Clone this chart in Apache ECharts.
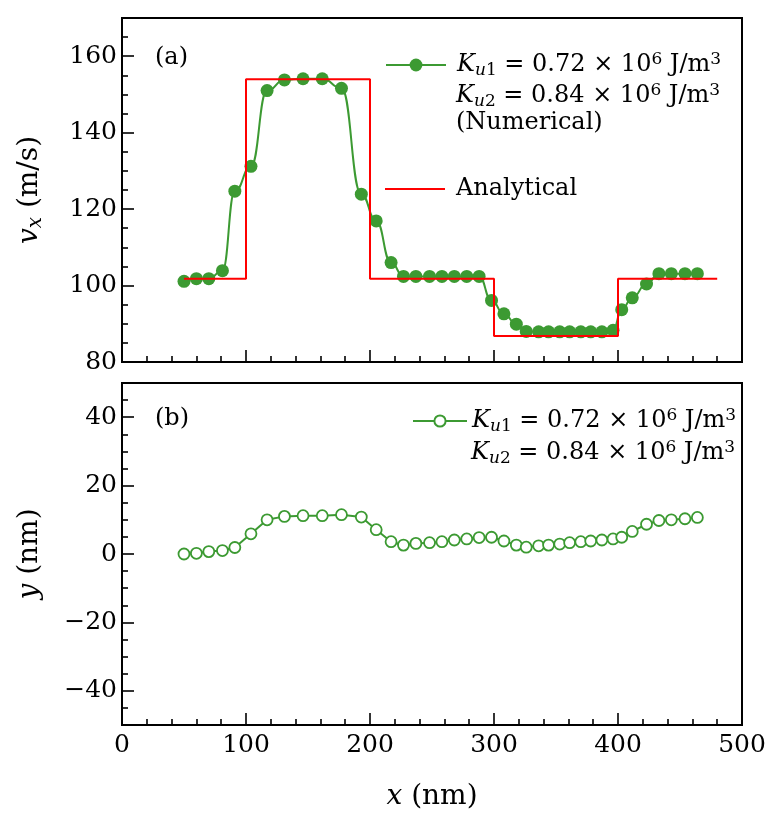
<!DOCTYPE html>
<html><head><meta charset="utf-8">
<script src="https://cdn.jsdelivr.net/npm/echarts@6/dist/echarts.min.js"></script>
<style>html,body{margin:0;padding:0;background:#fff}#c{width:777px;height:820px}</style>
</head><body><div id="c"></div>
<script>
// ---- data ----
const xPos = [50, 60, 70, 81, 91, 104, 117, 131, 146, 161.5, 177, 193, 205, 217, 227, 237, 248, 258, 268, 278, 288, 298, 308, 318, 326, 336, 344, 353, 361, 370, 378, 387, 396, 403, 411.5, 423, 433, 443, 454, 464];
const vxNumerical = [101.1, 101.8, 101.8, 103.9, 124.7, 131.2, 151.0, 153.8, 154.1, 154.1, 151.6, 123.9, 116.9, 106.0, 102.4, 102.4, 102.4, 102.4, 102.4, 102.4, 102.4, 96.1, 92.6, 89.9, 88.0, 87.9, 87.9, 87.9, 87.9, 87.9, 87.9, 87.9, 88.3, 93.7, 96.8, 100.4, 103.1, 103.1, 103.1, 103.1];
const stepX = [50, 100, 200, 300, 400, 480];
const stepV = [101.8, 154, 101.8, 86.8, 101.8, 101.8];
const yNumerical = [0, 0.2, 0.7, 1.0, 1.9, 5.9, 10.0, 11.0, 11.2, 11.2, 11.5, 10.8, 7.1, 3.6, 2.6, 3.1, 3.3, 3.6, 4.1, 4.4, 4.8, 4.9, 3.8, 2.6, 2.0, 2.4, 2.6, 2.9, 3.3, 3.6, 3.8, 4.1, 4.4, 4.9, 6.6, 8.7, 9.8, 10.0, 10.3, 10.7];
const xRange = [0, 500];
const vxRange = [80, 170];
const yRange = [-50, 50];

// ---- styles ----
const F = 'DejaVu Serif';
const GREEN = '#3c9a32';
const RED = '#ff0000';
const FS = 24, SS = 17;
const rich = {
  n: {fontFamily: F, fontSize: FS, lineHeight: 28, color: '#000'},
  it: {fontFamily: F, fontStyle: 'italic', fontSize: FS, lineHeight: 28, color: '#000'},
  subit: {fontFamily: F, fontStyle: 'italic', fontSize: SS, lineHeight: 10, verticalAlign: 'bottom', color: '#000'},
  sub: {fontFamily: F, fontSize: SS, lineHeight: 10, verticalAlign: 'bottom', color: '#000'},
  sup: {fontFamily: F, fontSize: SS, lineHeight: 8, verticalAlign: 'top', color: '#000'}
};
const richLegendTop = Object.assign({}, rich, {
  it: Object.assign({}, rich.it, {padding: [0, 0, 0, 6]}),
  np: Object.assign({}, rich.n, {padding: [0, 0, 0, 6]})
});
const TS = 28;
const richTitle = {
  n: {fontFamily: F, fontSize: TS, lineHeight: 32, color: '#000'},
  it: {fontFamily: F, fontStyle: 'italic', fontSize: TS, lineHeight: 32, color: '#000'},
  subit: {fontFamily: F, fontStyle: 'italic', fontSize: 20, lineHeight: 12, verticalAlign: 'bottom', color: '#000'}
};
const K1 = '{it|K}{subit|u}{sub|1}{n| = 0.72 × 10}{sup|6}{n| J/m}{sup|3}';
const K2 = '{it|K}{subit|u}{sub|2}{n| = 0.84 × 10}{sup|6}{n| J/m}{sup|3}';

const tickStyle = {color: '#000', width: 1.6};
function xAxis(grid, showLabels) {
  return {
    type: 'value', gridIndex: grid, min: xRange[0], max: xRange[1], interval: 100,
    axisLine: {show: false, onZero: false},
    axisTick: {show: true, inside: true, length: 12, lineStyle: tickStyle},
    minorTick: {show: true, splitNumber: 5, length: 6, lineStyle: tickStyle},
    splitLine: {show: false},
    axisLabel: {show: showLabels, margin: 8, color: '#000', fontFamily: F, fontSize: 25},
    name: showLabels ? '{it|x}{n| (nm)}' : '',
    nameLocation: 'middle', nameGap: 56,
    nameTextStyle: {rich: richTitle}
  };
}
const minus = v => String(v).replace('-', '\u2212');

const option = {
  animation: false,
  backgroundColor: '#fff',
  grid: [
    {left: 122, top: 18, width: 620, height: 344, show: true, borderColor: '#000', borderWidth: 2, backgroundColor: 'transparent'},
    {left: 122, top: 383, width: 620, height: 342, show: true, borderColor: '#000', borderWidth: 2, backgroundColor: 'transparent'}
  ],
  xAxis: [xAxis(0, false), xAxis(1, true)],
  yAxis: [
    {
      type: 'value', gridIndex: 0, min: vxRange[0], max: vxRange[1], interval: 20,
      axisLine: {show: false, onZero: false},
      axisTick: {show: true, inside: true, length: 12, lineStyle: tickStyle},
      minorTick: {show: true, splitNumber: 4, length: 6, lineStyle: tickStyle},
      splitLine: {show: false},
      axisLabel: {margin: 5, color: '#000', fontFamily: F, fontSize: 25, showMaxLabel: false},
      name: '{it|v}{subit|x}{n| (m/s)}', nameLocation: 'middle', nameGap: 76,
      nameTextStyle: {rich: richTitle}
    },
    {
      type: 'value', gridIndex: 1, min: yRange[0], max: yRange[1], splitNumber: 5,
      axisLine: {show: false, onZero: false},
      axisTick: {show: true, inside: true, length: 12, lineStyle: tickStyle},
      minorTick: {show: true, splitNumber: 4, length: 6, lineStyle: tickStyle},
      splitLine: {show: false},
      axisLabel: {margin: 5, color: '#000', fontFamily: F, fontSize: 25, showMaxLabel: false, showMinLabel: false, formatter: minus},
      name: '{it|y}{n| (nm)}', nameLocation: 'middle', nameGap: 76,
      nameTextStyle: {rich: richTitle}
    }
  ],
  legend: [
    {
      data: ['Numerical'], left: 385, top: 51, padding: 0, itemWidth: 60, itemHeight: 16, itemGap: 0,
      textStyle: {rich: richLegendTop}, formatter: () => K1, selectedMode: false
    },
    {
      data: [{name: 'Analytical', icon: 'rect'}], left: 385, top: 177, padding: 0, itemWidth: 60, itemHeight: 2,
      textStyle: {rich: richLegendTop}, formatter: () => '{np|Analytical}', selectedMode: false
    },
    {
      data: ['Displacement'], left: 412, top: 407, padding: 0, itemWidth: 54, itemHeight: 14, itemGap: 0,
      textStyle: {rich: rich}, formatter: () => K1, selectedMode: false
    }
  ],
  graphic: [
    {type: 'text', left: 456, top: 82, style: {text: K2, rich: rich}},
    {type: 'text', left: 456, top: 111, style: {text: '{n|(Numerical)}', rich: rich}},
    {type: 'text', left: 471, top: 439, style: {text: K2, rich: rich}},
    {type: 'text', left: 155, top: 46, style: {text: '{n|(a)}', rich: rich}},
    {type: 'text', left: 155, top: 407, style: {text: '{n|(b)}', rich: rich}}
  ],
  series: [
    {
      name: 'Numerical', type: 'line', xAxisIndex: 0, yAxisIndex: 0, z: 2,
      data: xPos.map((x, i) => [x, vxNumerical[i]]),
      smooth: 0.5, smoothMonotone: 'x', symbol: 'circle', symbolSize: 13,
      itemStyle: {color: GREEN}, lineStyle: {color: GREEN, width: 2}
    },
    {
      name: 'Analytical', type: 'line', xAxisIndex: 0, yAxisIndex: 0, z: 3,
      data: stepX.map((x, i) => [x, stepV[i]]), step: 'end',
      symbol: 'none', itemStyle: {color: RED}, lineStyle: {color: RED, width: 2}
    },
    {
      name: 'Displacement', type: 'line', xAxisIndex: 1, yAxisIndex: 1,
      data: xPos.map((x, i) => [x, yNumerical[i]]),
      symbol: 'circle', symbolSize: 11,
      itemStyle: {color: '#fff', borderColor: GREEN, borderWidth: 1.8},
      lineStyle: {color: GREEN, width: 2}
    }
  ]
};
const chart = echarts.init(document.getElementById('c'));
chart.setOption(option);
</script></body></html>
